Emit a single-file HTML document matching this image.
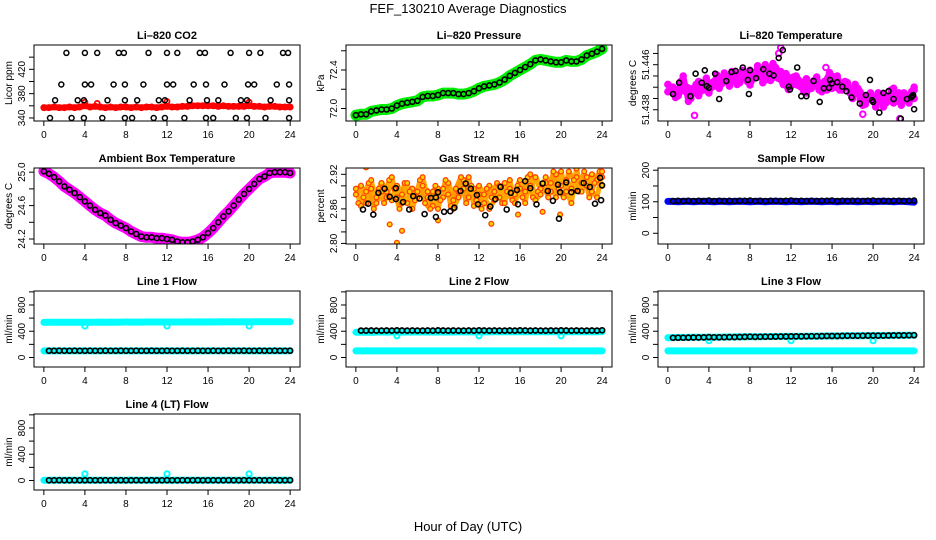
<!DOCTYPE html>
<html><head><meta charset="utf-8"><style>
html,body{margin:0;padding:0;background:#fff;}
svg{display:block;font-family:"Liberation Sans",Arial,sans-serif;}
</style></head><body>
<svg id="chart" width="936" height="540" viewBox="0 0 936 540" xmlns="http://www.w3.org/2000/svg">
<rect x="0" y="0" width="936" height="540" fill="#fff"/>
<text x="468" y="13" text-anchor="middle" font-size="13">FEF_130210  Average Diagnostics</text>
<text x="468" y="531" text-anchor="middle" font-size="13">Hour of Day (UTC)</text>
</svg>
<script>
const halfHours = [0,0.5,1,1.5,2,2.5,3,3.5,4,4.5,5,5.5,6,6.5,7,7.5,8,8.5,9,9.5,10,10.5,11,11.5,12,12.5,13,13.5,14,14.5,15,15.5,16,16.5,17,17.5,18,18.5,19,19.5,20,20.5,21,21.5,22,22.5,23,23.5,24];
const qHours = [0.25,0.75,1.25,1.75,2.25,2.75,3.25,3.75,4.25,4.75,5.25,5.75,6.25,6.75,7.25,7.75,8.25,8.75,9.25,9.75,10.25,10.75,11.25,11.75,12.25,12.75,13.25,13.75,14.25,14.75,15.25,15.75,16.25,16.75,17.25,17.75,18.25,18.75,19.25,19.75,20.25,20.75,21.25,21.75,22.25,22.75,23.25,23.75,24];
const xTicks = [0,4,8,12,16,20,24];

// CO2
const co2Red = [357,357,358,357,357,358,357,358,360,358,359,358,357,358,357,358,358,357,358,357,358,358,357,358,359,358,358,359,359,360,360,360,360,360,359,360,359,359,359,359,360,359,359,358,359,359,358,358,358];
const co2BumpH = [4,5.2,12,20];
const co2BumpV = [366,364,367,366];
const co2BlkH = [2.2,4,5.2,7.3,7.8,10.2,12,13,15.2,15.7,18.2,20,21.1,23.3,23.8, 1.7,4,4.6,6.8,7.9,9.7,12,12.6,14.6,15.8,17.6,19.9,20.5,22.7,23.9, 1.1,3.3,3.9,6.2,7.9,9.1,11.2,11.8,14.2,15.9,17,19.2,19.8,22.1,23.9, 0.6,2.7,3.9,5.7,7.9,8.6,10.7,11.8,13.7,15.8,16.5,18.7,19.8,21.6,23.9];
const co2BlkV = [447,447,447,447,447,447,447,447,447,447,447,447,447,447,447, 395,395,395,395,395,395,395,395,395,395,395,395,395,395,395, 369,369,369,369,369,369,369,369,369,369,369,369,369,369,369, 340,340,340,340,340,340,340,340,340,340,340,340,340,340,340];

// Pressure
const presVals = [71.93,71.94,71.94,71.97,71.98,71.99,71.99,72.00,72.03,72.05,72.06,72.07,72.08,72.12,72.13,72.13,72.14,72.16,72.16,72.16,72.15,72.15,72.16,72.18,72.21,72.23,72.24,72.25,72.27,72.30,72.34,72.37,72.40,72.43,72.46,72.50,72.51,72.50,72.49,72.48,72.48,72.50,72.49,72.49,72.51,72.55,72.57,72.59,72.62];

// Li-820 temperature
const tempA = [51.4412,51.4420,51.4405,51.4425,51.4418,51.4410,51.4430,51.4415,51.4428,51.4422,51.4435,51.4440,51.4432,51.4445,51.4438,51.4442,51.4450,51.4437,51.4446,51.4433,51.4441,51.4455,51.4440,51.4444,51.4430,51.4425,51.4420,51.4435,51.4418,51.4428,51.4422,51.4415,51.4440,51.4432,51.4425,51.4420,51.4412,51.4418,51.4405,51.4398,51.4402,51.4395,51.4408,51.4400,51.4392,51.4410,51.4398,51.4405,51.4415];
const tempB = [51.4418,51.4402,51.4430,51.4412,51.4400,51.4425,51.4416,51.4436,51.4420,51.4442,51.4426,51.4430,51.4448,51.4425,51.4450,51.4430,51.4435,51.4458,51.4428,51.4450,51.4462,51.4436,51.4425,51.4416,51.4438,51.4430,51.4412,51.4424,51.4432,51.4415,51.4430,51.4446,51.4420,51.4415,51.4430,51.4410,51.4425,51.4398,51.4390,51.4410,51.4385,51.4400,51.4392,51.4415,51.4405,51.4388,51.4402,51.4412,51.4400];
const tempC = [51.4425,51.4415,51.4410,51.4440,51.4395,51.4418,51.4405,51.4422,51.4410,51.4430,51.4418,51.4445,51.4422,51.4440,51.4428,51.4447,51.4424,51.4442,51.4438,51.4460,51.4432,51.4440,51.4448,51.4430,51.4422,51.4440,51.4428,51.4410,51.4422,51.4438,51.4412,51.4425,51.4418,51.4440,51.4415,51.4428,51.4400,51.4415,51.4388,51.4405,51.4396,51.4410,51.4385,51.4398,51.4418,51.4395,51.4410,51.4392,51.4420];
const tempOutH = [2.6,10.8,11.0,15.4,22.6,19.0];
const tempOutV = [51.4370,51.4480,51.4490,51.4455,51.4364,51.4372];
const tempBlkH = [0.5,1.1,2.2,2.7,3.3,3.6,3.8,4,4.6,5,5.7,6.2,6.6,7.3,7.8,7.9,8,8.6,9.3,9.9,10.3,10.8,11.2,11.8,11.9,12.6,13,13.5,14.2,14.8,15.2,15.7,15.8,16,16.5,17,17.4,17.9,18.7,19.3,19.7,19.9,20,20.6,21,21.5,22,22.7,23.3,23.7,23.8,23.9,24];
const tempBlkV = [51.4408,51.4428,51.4404,51.4444,51.4428,51.4450,51.4422,51.4419,51.4444,51.4399,51.4431,51.4447,51.4449,51.4455,51.4433,51.4408,51.4450,51.4436,51.4452,51.4444,51.4441,51.4472,51.4486,51.4421,51.4416,51.4455,51.4404,51.4404,51.4431,51.4394,51.4418,51.4419,51.4433,51.4427,51.4429,51.4421,51.4413,51.4402,51.4391,51.4406,51.4433,51.4397,51.4394,51.4375,51.4410,51.4413,51.4399,51.4364,51.4399,51.4402,51.4404,51.4406,51.4381];

// Ambient box temperature
const ambVals = [25.01,24.98,24.94,24.89,24.83,24.79,24.75,24.70,24.65,24.60,24.55,24.51,24.48,24.43,24.39,24.36,24.33,24.29,24.26,24.23,24.22,24.22,24.21,24.21,24.20,24.19,24.17,24.16,24.16,24.17,24.19,24.22,24.27,24.33,24.40,24.47,24.53,24.60,24.67,24.74,24.80,24.86,24.92,24.95,24.99,25.00,25.00,25.00,24.99];

// Gas stream RH
const rhA = [2.885,2.900,2.870,2.895,2.880,2.905,2.890,2.875,2.900,2.885,2.870,2.895,2.880,2.900,2.890,2.865,2.895,2.880,2.905,2.875,2.890,2.910,2.880,2.895,2.885,2.870,2.900,2.890,2.880,2.905,2.895,2.885,2.910,2.890,2.900,2.915,2.895,2.905,2.890,2.920,2.900,2.910,2.895,2.915,2.905,2.900,2.920,2.910,2.900];
const rhB = [2.870,2.880,2.905,2.860,2.895,2.870,2.910,2.895,2.860,2.905,2.890,2.875,2.910,2.870,2.860,2.900,2.875,2.910,2.865,2.895,2.915,2.870,2.900,2.875,2.860,2.895,2.880,2.905,2.870,2.890,2.875,2.900,2.880,2.915,2.880,2.890,2.905,2.880,2.925,2.895,2.880,2.925,2.910,2.890,2.925,2.880,2.905,2.925,2.915];
const rhC = [2.895,2.865,2.890,2.910,2.870,2.890,2.880,2.915,2.880,2.870,2.905,2.860,2.890,2.915,2.880,2.890,2.860,2.895,2.885,2.860,2.880,2.895,2.915,2.865,2.900,2.885,2.860,2.875,2.900,2.870,2.910,2.870,2.895,2.870,2.920,2.875,2.885,2.915,2.905,2.880,2.925,2.890,2.870,2.930,2.890,2.915,2.890,2.880,2.925];
const rhOutH = [3.3,4.5,4.0,13.2,18.2,19.9,1.0,3.3,8.0,15.8];
const rhOutV = [2.833,2.822,2.801,2.834,2.855,2.850,2.932,2.936,2.840,2.850];
const rhBlkH = [0.7,1.2,1.7,2.2,2.8,3.3,3.9,3.9,4.6,5.2,5.6,6.2,6.7,7.3,7.8,7.8,8,8.6,9.2,9.6,10.2,10.7,11.2,11.9,11.8,12.6,13.1,13.6,14.1,14.7,15.1,15.7,15.8,16.5,17,17.6,18.2,18.7,19.2,19.7,19.8,19.9,20.5,21,21.6,22.2,22.8,23.3,23.8,23.9,24];
const rhBlkV = [2.859,2.869,2.850,2.888,2.895,2.881,2.896,2.877,2.872,2.859,2.882,2.878,2.851,2.879,2.846,2.880,2.889,2.855,2.856,2.862,2.891,2.904,2.895,2.868,2.884,2.849,2.864,2.877,2.898,2.859,2.888,2.893,2.868,2.908,2.896,2.868,2.904,2.891,2.874,2.902,2.843,2.889,2.906,2.889,2.891,2.905,2.898,2.869,2.914,2.875,2.901];

// Sample flow
const sfBlue = [101,101,100,101,101,100,101,101,101,100,101,101,100,101,101,101,100,101,101,100,101,101,101,100,101,101,100,101,101,101,100,101,101,100,101,101,101,100,101,101,100,101,101,101,100,101,101,100,99];
const sfBlack = [null,102,103,102,103,102,103,102,104,102,103,102,103,102,103,103,104,102,103,102,103,103,102,103,104,102,103,102,103,102,103,103,104,102,103,102,103,103,102,103,104,102,103,102,103,103,102,103,104];

// Line 1 flow
const l1High = [535,536,537,536,537,538,537,538,538,537,538,539,538,539,538,539,540,539,540,539,540,541,540,541,540,541,540,541,542,541,542,541,542,541,542,543,542,543,542,543,542,543,544,543,544,543,544,543,544];
const l1Low = [100,100,101,100,100,101,100,100,101,100,100,101,100,100,101,100,100,101,100,100,101,100,100,101,100,100,101,100,100,101,100,100,101,100,100,101,100,100,101,100,100,101,100,100,101,100,100,101,100];
const l1Black = [null,102,102,103,102,102,103,102,102,103,102,102,103,102,102,103,102,102,103,102,102,103,102,102,103,102,102,103,102,102,103,102,102,103,102,102,103,102,102,103,102,102,103,102,102,103,102,102,103];
const l1DipH = [4,12,20];
const l1DipV = [480,480,480];

// Line 2 flow
const l2High = [385,386,387,386,387,388,387,388,388,387,388,389,388,389,388,389,390,389,390,389,390,391,390,391,390,391,390,391,392,391,392,391,392,391,392,393,392,393,392,393,392,393,394,393,394,393,394,393,394];
const l2Low = [100,100,101,100,100,101,100,100,101,100,100,101,100,100,101,100,100,101,100,100,101,100,100,101,100,100,101,100,100,101,100,100,101,100,100,101,100,100,101,100,100,101,100,100,101,100,100,101,100];
const l2Black = [null,410,410,411,410,410,411,410,412,411,410,411,410,410,411,410,412,411,410,411,410,410,411,410,412,411,410,411,410,410,411,410,412,411,410,411,410,410,411,410,412,411,410,411,410,410,411,410,414];
const l2DipH = [4,12,20];
const l2DipV = [330,330,330];

// Line 3 flow
const l3High = [302,303,304,305,306,307,308,309,310,309,310,311,312,313,314,315,316,316,317,318,319,320,321,322,322,321,322,323,324,325,326,327,328,328,329,330,331,331,332,333,333,334,334,335,336,336,337,338,338];
const l3Low = [100,100,101,100,100,101,100,100,101,100,100,101,100,100,101,100,100,101,100,100,101,100,100,101,100,100,101,100,100,101,100,100,101,100,100,101,100,100,101,100,100,101,100,100,101,100,100,101,100];
const l3Black = [null,300,301,302,303,304,305,306,310,307,308,309,310,311,312,313,316,314,315,316,317,318,319,320,322,321,322,323,324,325,326,327,328,328,329,330,331,331,332,333,334,334,334,335,336,336,337,338,340];
const l3DipH = [4,12,20];
const l3DipV = [255,255,255];

// Line 4 flow
const l4Cyan = [5,5,6,5,5,6,5,5,6,5,5,6,5,5,6,5,5,6,5,5,6,5,5,6,5,5,6,5,5,6,5,5,6,5,5,6,5,5,6,5,5,6,5,5,6,5,5,6,5];
const l4Black = [null,3,3,4,3,3,4,3,3,4,3,3,4,3,3,4,3,3,4,3,3,4,3,3,4,3,3,4,3,3,4,3,3,4,3,3,4,3,3,4,3,3,4,3,3,4,3,3,4];
const l4BumpH = [4,12,20];
const l4BumpV = [100,100,100];

const flowTicks = [0,200,400,600,800,1000];
const flowLabels = ['0','','400','','800',''];

const NS = 'http://www.w3.org/2000/svg';
const svg = document.getElementById('chart');
const colLeft = [34,346,658];
const rowTop = [45,168,291,414];
const PW = 266, PH = 76;
const XMIN = -0.96, XMAX = 24.96;

function mk(tag, attrs, parent) {
  const el = document.createElementNS(NS, tag);
  for (const k in attrs) el.setAttribute(k, attrs[k]);
  (parent || svg).appendChild(el);
  return el;
}

function panel(name, col, row, title, ylab, ylim, yticks, ylabels) {
  const L = colLeft[col], T = rowTop[row];
  const g = mk('g', {});
  
  
  const sx = v => L + (v - XMIN) / (XMAX - XMIN) * PW;
  const sy = v => T + PH - (v - ylim[0]) / (ylim[1] - ylim[0]) * PH;
  const clipId = 'clip-' + name;
  const cp = mk('clipPath', {id: clipId}, g);
  mk('rect', {x: L, y: T, width: PW, height: PH}, cp);
  const plot = mk('g', {'clip-path': 'url(#' + clipId + ')'}, g);
  
  
  const box = mk('rect', {x: L, y: T, width: PW, height: PH, fill: 'none', stroke: '#000', 'stroke-width': 1}, g);
  
  
  const t = mk('text', {x: L + PW / 2, y: T - 6, 'text-anchor': 'middle', 'font-size': 11, 'font-weight': 'bold'}, g);
  t.textContent = title;
  
  
  const xa = mk('g', {}, g);
  
  
  mk('line', {x1: sx(xTicks[0]), x2: sx(xTicks[xTicks.length - 1]), y1: T + PH, y2: T + PH, stroke: '#000'}, xa);
  xTicks.forEach(v => {
    mk('line', {x1: sx(v), x2: sx(v), y1: T + PH, y2: T + PH + 5, stroke: '#000'}, xa);
    const tl = mk('text', {x: sx(v), y: T + PH + 17, 'text-anchor': 'middle', 'font-size': 10}, xa);
    tl.textContent = String(v);
    
    
  });
  const ya = mk('g', {}, g);
  
  
  mk('line', {x1: L, x2: L, y1: sy(yticks[0]), y2: sy(yticks[yticks.length - 1]), stroke: '#000'}, ya);
  yticks.forEach((v, i) => {
    mk('line', {x1: L - 5, x2: L, y1: sy(v), y2: sy(v), stroke: '#000'}, ya);
    if (ylabels[i]) {
      const yl = mk('text', {x: 0, y: 0, 'text-anchor': 'middle', 'font-size': 10, transform: 'translate(' + (L - 9) + ',' + sy(v) + ') rotate(-90)'}, ya);
      yl.textContent = ylabels[i];
      
      
    }
  });
  const yt = mk('text', {x: 0, y: 0, 'text-anchor': 'middle', 'font-size': 10, transform: 'translate(' + (L - 22) + ',' + (T + PH / 2) + ') rotate(-90)'}, g);
  yt.textContent = ylab;
  
  
  return {sx, sy, g: plot};
}

function band(p, name, xs, ys, color, w) {
  const pts = [];
  xs.forEach((x, i) => { if (ys[i] !== null && ys[i] !== undefined) pts.push(p.sx(x).toFixed(1) + ',' + p.sy(ys[i]).toFixed(1)); });
  const pl = mk('polyline', {points: pts.join(' '), fill: 'none', stroke: color, 'stroke-width': w, 'stroke-linecap': 'round', 'stroke-linejoin': 'round'}, p.g);
  
  
}

function dots(p, name, xs, ys, color, r, sw, fill) {
  const gg = mk('g', {}, p.g);
  
  
  xs.forEach((x, i) => {
    if (ys[i] === null || ys[i] === undefined) return;
    const c = mk('circle', {cx: p.sx(x).toFixed(1), cy: p.sy(ys[i]).toFixed(1), r: r, fill: fill || 'none', stroke: color, 'stroke-width': sw}, gg);
    
    
  });
}

let p = panel('co2', 0, 0, 'Li\u2013820 CO2', 'Licor ppm', [335, 460], [340,360,380,400,420,440], ['340','','380','','420','']);
band(p, 'co2-red-band', halfHours, co2Red, '#ff0000', 6);
dots(p, 'co2-red-series', halfHours, co2Red, '#ff0000', 2.5, 2);
dots(p, 'co2-red-bumps', co2BumpH, co2BumpV, '#ff0000', 2.5, 1.8);
dots(p, 'co2-black-series', co2BlkH, co2BlkV, '#000', 2.5, 1.5);

p = panel('pressure', 1, 0, 'Li\u2013820 Pressure', 'kPa', [71.87, 72.66], [72.0,72.2,72.4,72.6], ['72.0','','72.4','']);
band(p, 'pressure-green-band', halfHours, presVals, '#00ee00', 11);
dots(p, 'pressure-black-series', halfHours, presVals, '#000', 2.5, 1.6);

p = panel('li820-temp', 2, 0, 'Li\u2013820 Temperature', 'degrees C', [51.436, 51.4495], [51.438,51.440,51.442,51.444,51.446,51.448], ['51.438','','','','51.446','']);
band(p, 'temp-magenta-band-a', halfHours, tempA, '#ff00ff', 7);
band(p, 'temp-magenta-band-b', qHours, tempB, '#ff00ff', 5);
band(p, 'temp-magenta-band-c', halfHours, tempC, '#ff00ff', 6);
dots(p, 'temp-magenta-a', halfHours, tempA, '#ff00ff', 2.8, 2);
dots(p, 'temp-magenta-b', qHours, tempB, '#ff00ff', 2.8, 2);
dots(p, 'temp-magenta-c', halfHours, tempC, '#ff00ff', 2.8, 2);
dots(p, 'temp-magenta-outliers', tempOutH, tempOutV, '#ff00ff', 2.8, 2);
dots(p, 'temp-black-series', tempBlkH, tempBlkV, '#000', 2.5, 1.6);

p = panel('ambient-temp', 0, 1, 'Ambient Box Temperature', 'degrees C', [24.14, 25.05], [24.2,24.4,24.6,24.8,25.0], ['24.2','','24.6','','25.0']);
band(p, 'ambient-magenta-band', halfHours, ambVals, '#ff00ff', 11);
dots(p, 'ambient-black-series', halfHours, ambVals, '#000', 2.5, 1.6);

p = panel('gas-rh', 1, 1, 'Gas Stream RH', 'percent', [2.799, 2.931], [2.80,2.82,2.84,2.86,2.88,2.90,2.92], ['2.80','','','2.86','','','2.92']);
band(p, 'rh-orange-band-a', halfHours, rhA, '#ffaa00', 6);
band(p, 'rh-orange-band-b', qHours, rhB, '#ff9900', 5);
band(p, 'rh-orange-band-c', halfHours, rhC, '#ffaa00', 5);
dots(p, 'rh-orange-a', halfHours, rhA, '#ff4000', 2.4, 1.3, '#ffd000');
dots(p, 'rh-orange-b', qHours, rhB, '#ff4000', 2.4, 1.3, '#ffd000');
dots(p, 'rh-orange-c', halfHours, rhC, '#ff4000', 2.4, 1.3, '#ffd000');
dots(p, 'rh-orange-outliers', rhOutH, rhOutV, '#ff4000', 2.4, 1.3, '#ffd000');
dots(p, 'rh-black-series', rhBlkH, rhBlkV, '#000', 2.5, 1.6);

p = panel('sample-flow', 2, 1, 'Sample Flow', 'ml/min', [-34, 207], [0,50,100,150,200], ['0','','100','','200']);
band(p, 'sample-blue-band', halfHours, sfBlue, '#0000ff', 7);
dots(p, 'sample-black-series', halfHours, sfBlack, '#000', 2.5, 1.6);

p = panel('line1-flow', 0, 2, 'Line 1 Flow', 'ml/min', [-145, 1013], flowTicks, flowLabels);
band(p, 'line1-cyan-high', halfHours, l1High, '#00ffff', 7);
dots(p, 'line1-cyan-dips', l1DipH, l1DipV, '#00ffff', 2.6, 2);
band(p, 'line1-cyan-low', halfHours, l1Low, '#00ffff', 7);
dots(p, 'line1-black-series', halfHours, l1Black, '#000', 2.5, 1.7);

p = panel('line2-flow', 1, 2, 'Line 2 Flow', 'ml/min', [-145, 1013], flowTicks, flowLabels);
band(p, 'line2-cyan-high', halfHours, l2High, '#00ffff', 7);
dots(p, 'line2-cyan-dips', l2DipH, l2DipV, '#00ffff', 2.6, 2);
band(p, 'line2-cyan-low', halfHours, l2Low, '#00ffff', 7);
dots(p, 'line2-black-series', halfHours, l2Black, '#000', 2.5, 1.7);

p = panel('line3-flow', 2, 2, 'Line 3 Flow', 'ml/min', [-145, 1013], flowTicks, flowLabels);
band(p, 'line3-cyan-high', halfHours, l3High, '#00ffff', 7);
dots(p, 'line3-cyan-dips', l3DipH, l3DipV, '#00ffff', 2.6, 2);
band(p, 'line3-cyan-low', halfHours, l3Low, '#00ffff', 7);
dots(p, 'line3-black-series', halfHours, l3Black, '#000', 2.5, 1.7);

p = panel('line4-flow', 0, 3, 'Line 4 (LT) Flow', 'ml/min', [-145, 1013], flowTicks, flowLabels);
band(p, 'line4-cyan-band', halfHours, l4Cyan, '#00ffff', 7);
dots(p, 'line4-cyan-bumps', l4BumpH, l4BumpV, '#00ffff', 2.6, 2);
dots(p, 'line4-black-series', halfHours, l4Black, '#000', 2.5, 1.7);
</script>
</body></html>
